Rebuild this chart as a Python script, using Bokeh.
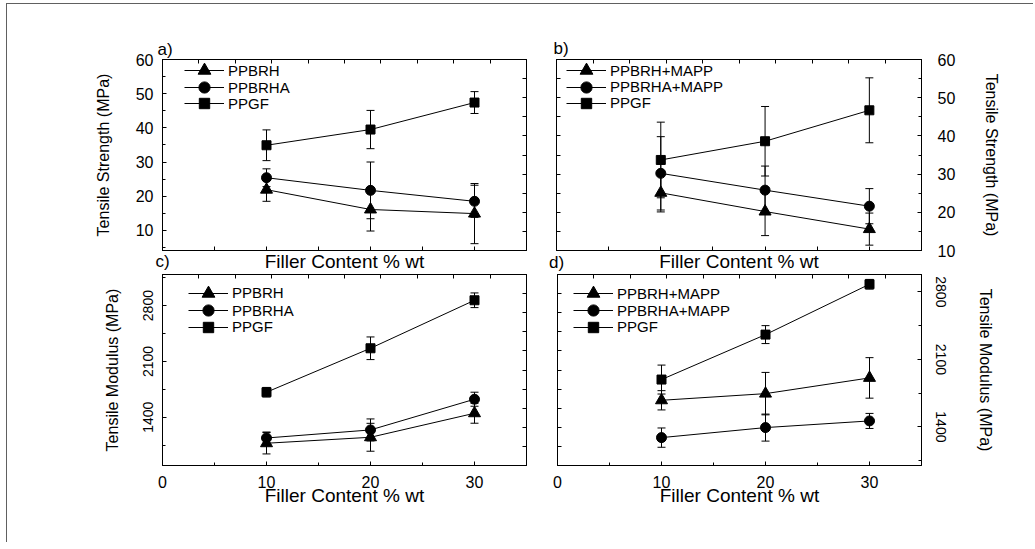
import numpy as np
from bokeh.plotting import figure
from bokeh.layouts import column, row
from bokeh.models import (ColumnDataSource, Whisker, TeeHead, LinearAxis, Range1d,
                          FixedTicker, SingleIntervalTicker, Legend, LegendItem,
                          Spacer)
from bokeh.embed import file_html
from bokeh.resources import INLINE

FONT = "Liberation Sans"

# ---------------- data ----------------
filler = [10, 20, 30]
x_tick_labels = [0, 10, 20, 30]

# a) Tensile strength (MPa), without MAPP
a_ppbrh = [21.9, 16.1, 14.9]
a_ppbrh_err = [3.4, 6.3, 8.8]
a_ppbrha = [25.4, 21.7, 18.5]
a_ppbrha_err = [2.6, 8.3, 4.7]
a_ppgf = [34.9, 39.5, 47.4]
a_ppgf_err = [4.5, 5.6, 3.2]

# b) Tensile strength (MPa), with MAPP
b_ppbrh = [25.1, 20.2, 15.6]
b_ppbrh_err = [5.0, 6.3, 4.2]
b_ppbrha = [30.2, 25.8, 21.6]
b_ppbrha_err = [9.6, 6.3, 4.6]
b_ppgf = [33.7, 38.6, 46.7]
b_ppgf_err = [9.9, 9.1, 8.5]

# c) Tensile modulus (MPa), without MAPP
c_ppbrh = [1074, 1149, 1450]
c_ppbrh_err = [134, 175, 125]
c_ppbrha = [1140, 1241, 1626]
c_ppbrha_err = [75, 138, 88]
c_ppgf = [1714, 2265, 2867]
c_ppgf_err = [60, 142, 92]

# d) Tensile modulus (MPa), with MAPP
d_ppbrh = [1676, 1745, 1908]
d_ppbrh_err = [100, 220, 210]
d_ppbrha = [1289, 1393, 1462]
d_ppbrha_err = [100, 140, 78]
d_ppgf = [1891, 2357, 2879]
d_ppgf_err = [150, 93, 50]

names_plain = ["PPBRH", "PPBRHA", "PPGF"]
names_mapp = ["PPBRH+MAPP", "PPBRHA+MAPP", "PPGF"]
markers = ["triangle", "circle", "square"]
marker_sizes = [12, 10, 9]
legend_glyph_heights = [32, 28, 26]   # legend marker = 0.4 * glyph height

# ---------------- layout constants ----------------
OX, OY = 7, 4          # page origin of the plots (inside the grey frame lines)
FH = 191               # frame height


def style_axis(ax, labels=False, size="16px", orient="horizontal", standoff=9):
    ax.axis_line_color = "black"
    ax.major_tick_line_color = "black"
    ax.minor_tick_line_color = "black"
    ax.major_tick_in = 4
    ax.major_tick_out = 0
    ax.minor_tick_in = 4 if not labels else 3
    ax.minor_tick_out = 0
    ax.major_label_text_font = FONT
    ax.major_label_text_color = "black"
    ax.axis_label_text_font = FONT
    ax.axis_label_text_font_style = "normal"
    ax.axis_label_text_color = "black"
    ax.major_label_text_font_size = size
    ax.major_label_standoff = standoff
    ax.major_label_orientation = orient


def tick_only(minor):
    # ticks without labels: only minor ticks
    return FixedTicker(ticks=[], minor_ticks=list(minor))


def mirror_ticker(start, end):
    return tick_only(np.linspace(start, end, 11))


def make_panel(series, errs, names, y_start, y_end, borders, fw,
               legend_vx, legend_tops, title, title_offset, title_standoff):
    ml, mr, mt, mb = borders
    p = figure(frame_width=fw, frame_height=FH,
               x_range=Range1d(0, 35), y_range=Range1d(y_start, y_end),
               x_axis_location=None, y_axis_location=None,
               min_border_left=ml, min_border_right=mr,
               min_border_top=mt, min_border_bottom=mb,
               output_backend="svg", toolbar_location=None,
               background_fill_color="white", border_fill_color="white")
    p.grid.grid_line_color = None
    p.outline_line_color = "black"
    p.title.text = title
    p.title.align = "left"
    p.title.offset = title_offset
    p.title.standoff = title_standoff
    p.title.text_font = FONT
    p.title.text_font_size = "17px"
    p.title.text_font_style = "normal"
    p.title.text_color = "black"
    for vals, err, name, mk, ms, gh, top in zip(series, errs, names, markers,
                                                marker_sizes, legend_glyph_heights,
                                                legend_tops):
        src = ColumnDataSource(dict(x=filler, y=vals,
                                    upper=[v + e for v, e in zip(vals, err)],
                                    lower=[v - e for v, e in zip(vals, err)]))
        w = Whisker(source=src, base="x", upper="upper", lower="lower",
                    line_color="black", line_width=1,
                    upper_head=TeeHead(size=8, line_color="black", line_width=1),
                    lower_head=TeeHead(size=8, line_color="black", line_width=1))
        p.add_layout(w)
        r1 = p.line("x", "y", source=src, line_color="black", line_width=1)
        r2 = p.scatter("x", "y", source=src, marker=mk, size=ms, fill_color="black",
                       line_color="black")
        lg = Legend(items=[LegendItem(label=name, renderers=[r1, r2])],
                    location=(legend_vx, FH - top - gh / 2),
                    glyph_width=40, glyph_height=gh, label_height=gh,
                    spacing=0, padding=0, margin=0, label_standoff=4,
                    border_line_alpha=0, background_fill_alpha=0,
                    label_text_font=FONT, label_text_font_size="15px",
                    label_text_color="black")
        p.add_layout(lg)
    return p


def corner_label(p, text, standoff):
    # second bottom axis, only used to carry the next panel's letter
    ax = LinearAxis(ticker=FixedTicker(ticks=[], minor_ticks=[]), axis_label=text)
    style_axis(ax)
    ax.axis_line_color = None
    ax.axis_label_text_font_size = "17px"
    ax.axis_label_align = "start"
    ax.axis_label_standoff = standoff
    p.add_layout(ax, "below")


# ---------------- panel a ----------------
pa = make_panel([a_ppbrh, a_ppbrha, a_ppgf], [a_ppbrh_err, a_ppbrha_err, a_ppgf_err],
                names_plain, 4.1, 60, (162 - OX, 15, 59 - OY, 24), 364, 22,
                [11.1, 28.1, 44.1], "a)", -5, 2)
ax = LinearAxis(ticker=SingleIntervalTicker(interval=10, num_minor_ticks=2),
                axis_label="Tensile Strength (MPa)")
style_axis(ax, labels=True, size="16px", standoff=9)
ax.axis_label_text_font_size = "16px"
ax.axis_label_standoff = 21
pa.add_layout(ax, "left")
ax = LinearAxis(ticker=mirror_ticker(4.1, 60))
style_axis(ax)
pa.add_layout(ax, "right")
ax = LinearAxis(ticker=mirror_ticker(0, 35))
style_axis(ax)
pa.add_layout(ax, "above")
ax = LinearAxis(ticker=tick_only(np.arange(0, 36, 5)), axis_label="Filler Content % wt")
style_axis(ax)
ax.axis_label_text_font_size = "19px"
ax.axis_label_standoff = 0
pa.add_layout(ax, "below")
corner_label(pa, "c)", -23)

# ---------------- panel b ----------------
pb = make_panel([b_ppbrh, b_ppbrha, b_ppgf], [b_ppbrh_err, b_ppbrha_err, b_ppgf_err],
                names_mapp, 10, 60, (15, 100, 59 - OY, 24), 365, 10,
                [11.0, 27.7, 43.7], "b)", -3, 3)
ax = LinearAxis(ticker=SingleIntervalTicker(interval=10, num_minor_ticks=2),
                axis_label="Tensile Strength (MPa)")
style_axis(ax, labels=True, size="16px", standoff=16)
ax.axis_label_text_font_size = "16px"
ax.axis_label_standoff = 25
pb.add_layout(ax, "right")
ax = LinearAxis(ticker=mirror_ticker(10, 60))
style_axis(ax)
pb.add_layout(ax, "left")
ax = LinearAxis(ticker=mirror_ticker(0, 35))
style_axis(ax)
pb.add_layout(ax, "above")
ax = LinearAxis(ticker=tick_only(np.arange(0, 36, 5)), axis_label="Filler Content % wt")
style_axis(ax)
ax.axis_label_text_font_size = "19px"
ax.axis_label_standoff = 0
pb.add_layout(ax, "below")
corner_label(pb, "d)", -22)

# ---------------- panel c ----------------
pc = make_panel([c_ppbrh, c_ppbrha, c_ppgf], [c_ppbrh_err, c_ppbrha_err, c_ppgf_err],
                names_plain, 795, 3190, (162 - OX, 15, 0, 78), 364, 26,
                [18.6, 36.0, 52.6], "", 0, 0)
ax = LinearAxis(ticker=SingleIntervalTicker(interval=700, num_minor_ticks=2),
                axis_label="Tensile Modulus (MPa)")
style_axis(ax, labels=True, size="14px", orient="vertical", standoff=9)
ax.axis_label_text_font_size = "16px"
ax.axis_label_standoff = 20
pc.add_layout(ax, "left")
ax = LinearAxis(ticker=mirror_ticker(795, 3190))
style_axis(ax)
pc.add_layout(ax, "right")
ax = LinearAxis(ticker=mirror_ticker(0, 35))
style_axis(ax)
pc.add_layout(ax, "above")
ax = LinearAxis(ticker=FixedTicker(ticks=x_tick_labels, minor_ticks=[5, 15, 25]),
                axis_label="Filler Content % wt")
style_axis(ax, labels=True, size="16px", standoff=10)
ax.axis_label_text_font_size = "19px"
ax.axis_label_standoff = -6
pc.add_layout(ax, "below")

# ---------------- panel d ----------------
pd_ = make_panel([d_ppbrh, d_ppbrha, d_ppgf], [d_ppbrh_err, d_ppbrha_err, d_ppgf_err],
                 names_mapp, 1000, 2980, (16, 100, 0, 78), 364, 16,
                 [19.3, 36.0, 52.6], "", 0, 0)
ax = LinearAxis(ticker=SingleIntervalTicker(interval=700, num_minor_ticks=2),
                axis_label="Tensile Modulus (MPa)")
style_axis(ax, labels=True, size="14px", orient="vertical", standoff=14)
ax.axis_label_text_font_size = "16px"
ax.axis_label_standoff = 28
pd_.add_layout(ax, "right")
ax = LinearAxis(ticker=mirror_ticker(1000, 2980))
style_axis(ax)
pd_.add_layout(ax, "left")
ax = LinearAxis(ticker=mirror_ticker(0, 35))
style_axis(ax)
pd_.add_layout(ax, "above")
ax = LinearAxis(ticker=FixedTicker(ticks=x_tick_labels, minor_ticks=[5, 15, 25]),
                axis_label="Filler Content % wt")
style_axis(ax, labels=True, size="16px", standoff=10)
ax.axis_label_text_font_size = "19px"
ax.axis_label_standoff = -6
pd_.add_layout(ax, "below")

# thin grey frame line along the top and left edge (a shadow, outside the layout box)
main = column(row(pa, pb, Spacer(width=13, height=10, margin=0)),
              row(pc, pd_, Spacer(width=13, height=10, margin=0)),
              stylesheets=[":host { box-shadow: -1px -1px 0 0 #606060; }"])
page = column(Spacer(width=10, height=OY, margin=0),
              row(Spacer(width=OX, height=10, margin=0), main))

open("out.html", "w").write(file_html(page, INLINE))
